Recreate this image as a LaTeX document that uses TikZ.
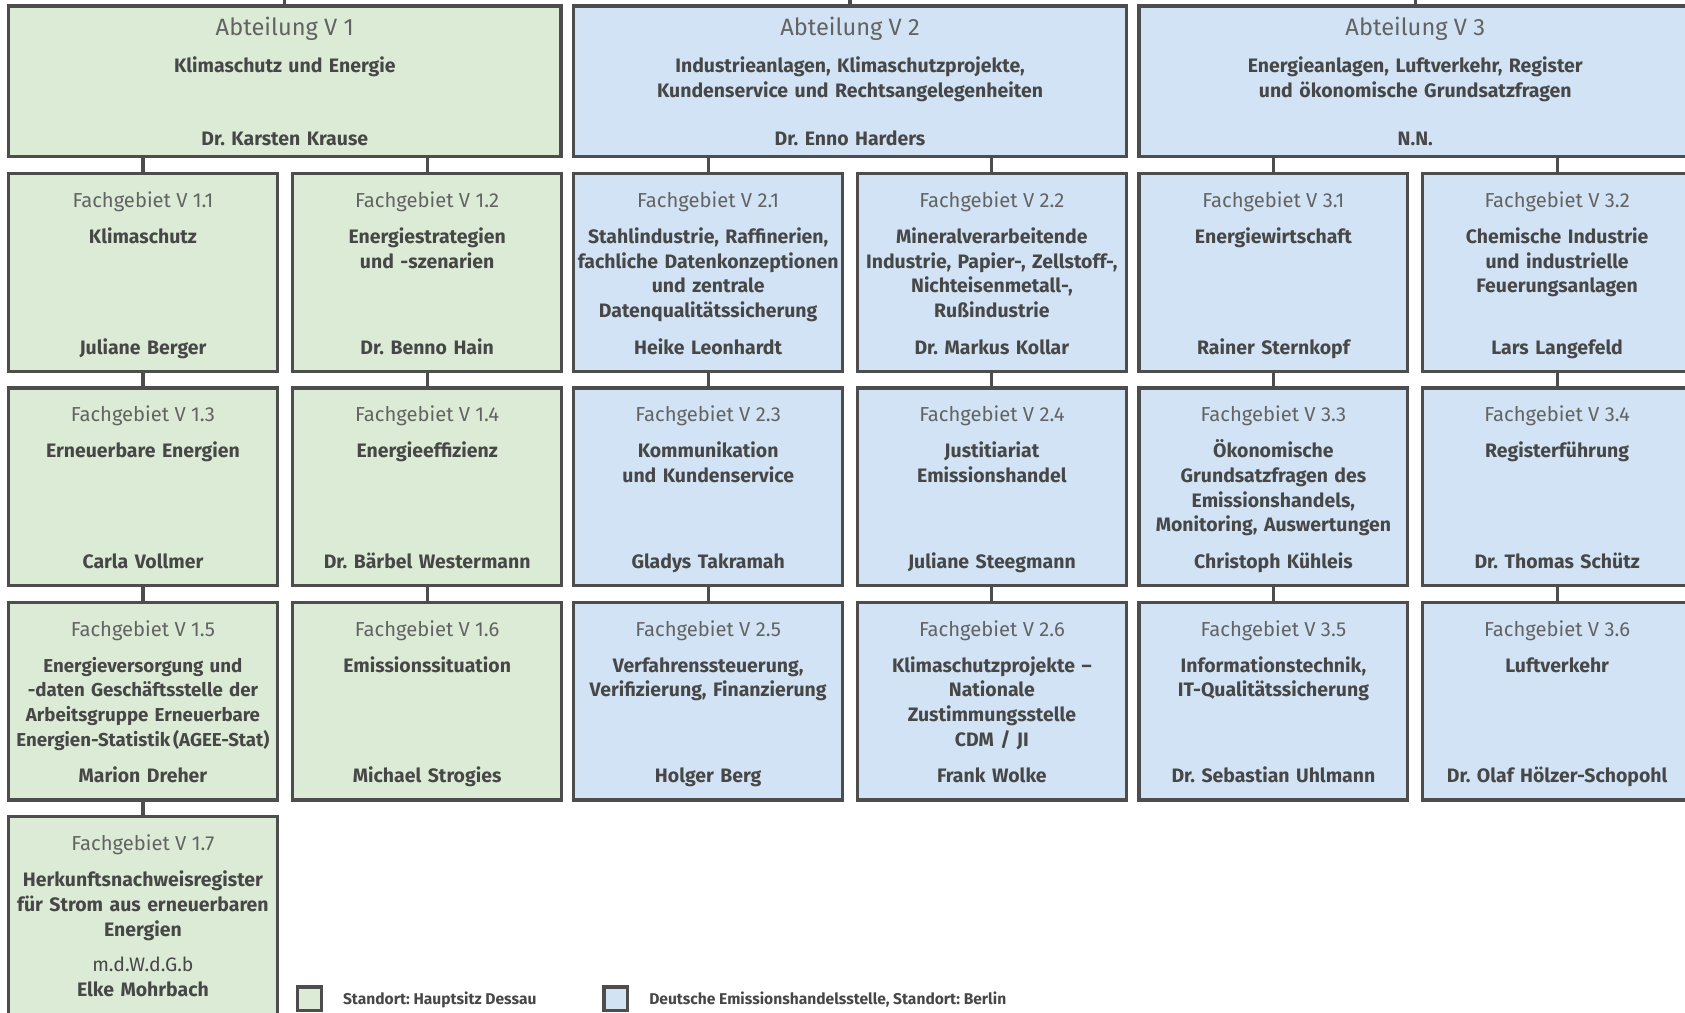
\documentclass[tikz,border=0pt]{standalone}
\usepackage{fontspec}
\setmainfont{Fira Sans}
\usetikzlibrary{positioning,calc}
\definecolor{boxgreen}{HTML}{DCEBD6}
\definecolor{boxblue}{HTML}{D1E3F4}
\definecolor{linegray}{HTML}{4D4D4D}
\definecolor{textgray}{HTML}{474747}
\frenchspacing

\begin{document}
\begin{tikzpicture}
  [x=1pt,y=-1pt,
   boxN/.style={rectangle,draw=linegray,line width=3pt,inner sep=0pt,outer sep=0pt},
   abtN/.style={boxN,minimum width=514pt,minimum height=140pt},
   fgN/.style={boxN,minimum width=250pt,minimum height=184pt},
   greenN/.style={fill=boxgreen},
   blueN/.style={fill=boxblue},
   numT/.style={anchor=base,inner sep=0pt,text=textgray!85,font=\fontsize{18.8}{23}\selectfont},
   headT/.style={numT,font=\fontsize{22}{23}\selectfont},
   nameT/.style={anchor=base,inner sep=0pt,text=textgray,text width=248pt,align=center,
     font=\bfseries\fontsize{18.1}{23}\selectfont},
   wideT/.style={nameT,text width=505pt},
   keyN/.style={boxN,minimum size=22pt},
   keyT/.style={anchor=base west,inner sep=0pt,text=textgray,font=\bfseries\fontsize{14.5}{16}\selectfont},
   link/.style={draw=linegray,line width=3pt}]

  \useasboundingbox (0,0) rectangle (1568,942);

  % Abteilungen
  \node[abtN,greenN] (v1) at (265,75.5) {};
  \node[abtN,blueN] (v2) at (791,75.5) {};
  \node[abtN,blueN] (v3) at (1317,75.5) {};

  \node[headT] at ([yshift=-28pt]v1.north) {Abteilung V 1};
  \node[wideT] at ([yshift=-62pt]v1.north) {Klimaschutz und Energie};
  \node[wideT] at ([yshift=10pt]v1.south) {Dr. Karsten Krause};

  \node[headT] at ([yshift=-28pt]v2.north) {Abteilung V 2};
  \node[wideT] at ([yshift=-62pt]v2.north) {Industrieanlagen, Klimaschutzprojekte,\\Kundenservice und Rechtsangelegenheiten};
  \node[wideT] at ([yshift=10pt]v2.south) {Dr. Enno Harders};

  \node[headT] at ([yshift=-28pt]v3.north) {Abteilung V 3};
  \node[wideT] at ([yshift=-62pt]v3.north) {Energieanlagen, Luftverkehr, Register\\und ökonomische Grundsatzfragen};
  \node[wideT] at ([yshift=10pt]v3.south) {N.N.};

  % Fachgebiete V 1
  \node[fgN,greenN] (fg11) at (133,253.5) {};
  \node[fgN,greenN] (fg12) at (397.5,253.5) {};
  \node[fgN,greenN] (fg13) at (133,453) {};
  \node[fgN,greenN] (fg14) at (397.5,453) {};
  \node[fgN,greenN] (fg15) at (133,652.5) {};
  \node[fgN,greenN] (fg16) at (397.5,652.5) {};
  \node[fgN,greenN] (fg17) at (133,852) {};

  \node[numT] at ([yshift=-31.5pt]fg11.north) {Fachgebiet V 1.1};
  \node[nameT] at ([yshift=-65pt]fg11.north) {Klimaschutz};
  \node[nameT] at ([yshift=16pt]fg11.south) {Juliane Berger};

  \node[numT] at ([yshift=-31.5pt]fg12.north) {Fachgebiet V 1.2};
  \node[nameT] at ([yshift=-65pt]fg12.north) {Energiestrategien\\und -szenarien};
  \node[nameT] at ([yshift=16pt]fg12.south) {Dr. Benno Hain};

  \node[numT] at ([yshift=-31.5pt]fg13.north) {Fachgebiet V 1.3};
  \node[nameT] at ([yshift=-65pt]fg13.north) {Erneuerbare Energien};
  \node[nameT] at ([yshift=16pt]fg13.south) {Carla Vollmer};

  \node[numT] at ([yshift=-31.5pt]fg14.north) {Fachgebiet V 1.4};
  \node[nameT] at ([yshift=-65pt]fg14.north) {Energieeffizienz};
  \node[nameT] at ([yshift=16pt]fg14.south) {Dr. Bärbel Westermann};

  \node[numT] at ([yshift=-31.5pt]fg15.north) {Fachgebiet V 1.5};
  \node[nameT,text width=270pt,font=\bfseries\fontsize{17.4}{23}\selectfont] at ([yshift=-65pt]fg15.north) {Energieversorgung und\\-daten Geschäftsstelle der\\Arbeitsgruppe Erneuerbare\\Energien-Statistik\hspace{0.15em}(AGEE-Stat)};
  \node[nameT] at ([yshift=16pt]fg15.south) {Marion Dreher};

  \node[numT] at ([yshift=-31.5pt]fg16.north) {Fachgebiet V 1.6};
  \node[nameT] at ([yshift=-65pt]fg16.north) {Emissionssituation};
  \node[nameT] at ([yshift=16pt]fg16.south) {Michael Strogies};

  \node[numT] at ([yshift=-31.5pt]fg17.north) {Fachgebiet V 1.7};
  \node[nameT] at ([yshift=-65pt]fg17.north) {Herkunftsnachweisregister\\für Strom aus erneuerbaren\\Energien};
  \node[nameT] at ([yshift=40pt]fg17.south) {{\mdseries m.d.W.d.G.b}\\Elke Mohrbach};

  % Fachgebiete V 2
  \node[fgN,blueN] (fg21) at (659,253.5) {};
  \node[fgN,blueN] (fg22) at (923,253.5) {};
  \node[fgN,blueN] (fg23) at (659,453) {};
  \node[fgN,blueN] (fg24) at (923,453) {};
  \node[fgN,blueN] (fg25) at (659,652.5) {};
  \node[fgN,blueN] (fg26) at (923,652.5) {};

  \node[numT] at ([yshift=-31.5pt]fg21.north) {Fachgebiet V 2.1};
  \node[nameT] at ([yshift=-65pt]fg21.north) {Stahlindustrie, Raffinerien,\\fachliche Datenkonzeptionen\\und zentrale\\Datenqualitätssicherung};
  \node[nameT] at ([yshift=16pt]fg21.south) {Heike Leonhardt};

  \node[numT] at ([yshift=-31.5pt]fg22.north) {Fachgebiet V 2.2};
  \node[nameT] at ([yshift=-65pt]fg22.north) {Mineralverarbeitende\\Industrie, Papier-, Zellstoff-,\\Nichteisenmetall-,\\Rußindustrie};
  \node[nameT] at ([yshift=16pt]fg22.south) {Dr. Markus Kollar};

  \node[numT] at ([yshift=-31.5pt]fg23.north) {Fachgebiet V 2.3};
  \node[nameT] at ([yshift=-65pt]fg23.north) {Kommunikation\\und Kundenservice};
  \node[nameT] at ([yshift=16pt]fg23.south) {Gladys Takramah};

  \node[numT] at ([yshift=-31.5pt]fg24.north) {Fachgebiet V 2.4};
  \node[nameT] at ([yshift=-65pt]fg24.north) {Justitiariat\\Emissionshandel};
  \node[nameT] at ([yshift=16pt]fg24.south) {Juliane Steegmann};

  \node[numT] at ([yshift=-31.5pt]fg25.north) {Fachgebiet V 2.5};
  \node[nameT] at ([yshift=-65pt]fg25.north) {Verfahrenssteuerung,\\Verifizierung, Finanzierung};
  \node[nameT] at ([yshift=16pt]fg25.south) {Holger Berg};

  \node[numT] at ([yshift=-31.5pt]fg26.north) {Fachgebiet V 2.6};
  \node[nameT] at ([yshift=-65pt]fg26.north) {Klimaschutzprojekte --\\Nationale\\Zustimmungsstelle\\CDM / JI};
  \node[nameT] at ([yshift=16pt]fg26.south) {Frank Wolke};

  % Fachgebiete V 3
  \node[fgN,blueN] (fg31) at (1185,253.5) {};
  \node[fgN,blueN] (fg32) at (1449,253.5) {};
  \node[fgN,blueN] (fg33) at (1185,453) {};
  \node[fgN,blueN] (fg34) at (1449,453) {};
  \node[fgN,blueN] (fg35) at (1185,652.5) {};
  \node[fgN,blueN] (fg36) at (1449,652.5) {};

  \node[numT] at ([yshift=-31.5pt]fg31.north) {Fachgebiet V 3.1};
  \node[nameT] at ([yshift=-65pt]fg31.north) {Energiewirtschaft};
  \node[nameT] at ([yshift=16pt]fg31.south) {Rainer Sternkopf};

  \node[numT] at ([yshift=-31.5pt]fg32.north) {Fachgebiet V 3.2};
  \node[nameT] at ([yshift=-65pt]fg32.north) {Chemische Industrie\\und industrielle\\Feuerungsanlagen};
  \node[nameT] at ([yshift=16pt]fg32.south) {Lars Langefeld};

  \node[numT] at ([yshift=-31.5pt]fg33.north) {Fachgebiet V 3.3};
  \node[nameT] at ([yshift=-65pt]fg33.north) {Ökonomische\\Grundsatzfragen des\\Emissionshandels,\\Monitoring, Auswertungen};
  \node[nameT] at ([yshift=16pt]fg33.south) {Christoph Kühleis};

  \node[numT] at ([yshift=-31.5pt]fg34.north) {Fachgebiet V 3.4};
  \node[nameT] at ([yshift=-65pt]fg34.north) {Registerführung};
  \node[nameT] at ([yshift=16pt]fg34.south) {Dr. Thomas Schütz};

  \node[numT] at ([yshift=-31.5pt]fg35.north) {Fachgebiet V 3.5};
  \node[nameT] at ([yshift=-65pt]fg35.north) {Informationstechnik,\\IT-Qualitätssicherung};
  \node[nameT] at ([yshift=16pt]fg35.south) {Dr. Sebastian Uhlmann};

  \node[numT] at ([yshift=-31.5pt]fg36.north) {Fachgebiet V 3.6};
  \node[nameT] at ([yshift=-65pt]fg36.north) {Luftverkehr};
  \node[nameT] at ([yshift=16pt]fg36.south) {Dr. Olaf Hölzer-Schopohl};

  % connectors
  \coordinate (t1) at (265,-5);
  \coordinate (t2) at (791,-5);
  \coordinate (t3) at (1317,-5);
  \draw[link] (t1) -- (v1.north);
  \draw[link] (t2) -- (v2.north);
  \draw[link] (t3) -- (v3.north);

  \draw[link] (fg11.north |- v1.south) -- (fg11.north);
  \draw[link] (fg12.north |- v1.south) -- (fg12.north);
  \draw[link] (fg21.north |- v2.south) -- (fg21.north);
  \draw[link] (fg22.north |- v2.south) -- (fg22.north);
  \draw[link] (fg31.north |- v3.south) -- (fg31.north);
  \draw[link] (fg32.north |- v3.south) -- (fg32.north);

  \draw[link] (fg11.south) -- (fg13.north);
  \draw[link] (fg13.south) -- (fg15.north);
  \draw[link] (fg15.south) -- (fg17.north);
  \draw[link] (fg12.south) -- (fg14.north);
  \draw[link] (fg14.south) -- (fg16.north);
  \draw[link] (fg21.south) -- (fg23.north);
  \draw[link] (fg23.south) -- (fg25.north);
  \draw[link] (fg22.south) -- (fg24.north);
  \draw[link] (fg24.south) -- (fg26.north);
  \draw[link] (fg31.south) -- (fg33.north);
  \draw[link] (fg33.south) -- (fg35.north);
  \draw[link] (fg32.south) -- (fg34.north);
  \draw[link] (fg34.south) -- (fg36.north);

  % legend
  \node[keyN,greenN] (keyG) at (288,929.5) {};
  \node[keyN,blueN] (keyB) at (573,929.5) {};
  \node[keyT] at (319,935) {Standort: Hauptsitz Dessau};
  \node[keyT] at (604,935) {Deutsche Emissionshandelsstelle, Standort: Berlin};
\end{tikzpicture}
\end{document}
